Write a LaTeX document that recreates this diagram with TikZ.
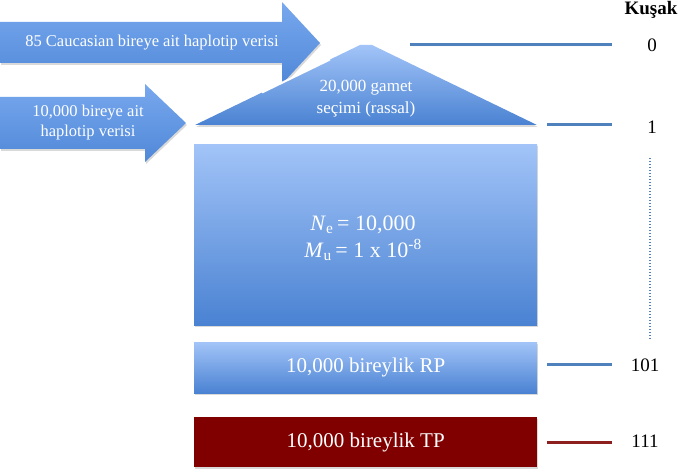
\documentclass[tikz,border=0pt]{standalone}
\usepackage{fontspec}
\setmainfont{Liberation Serif}
\usetikzlibrary{shadows}
\definecolor{bluetop}{HTML}{A2C4F8}
\definecolor{bluebot}{HTML}{4A82D2}
\definecolor{arrtop}{HTML}{78A8EE}
\definecolor{arrbot}{HTML}{5088D8}
\definecolor{tpred}{HTML}{800000}
\definecolor{lineblue}{HTML}{4F81BD}
\definecolor{linered}{HTML}{8E1F1F}
\tikzset{
  bluefill/.style={top color=bluetop, bottom color=bluebot, draw=none},
  arrfill/.style={top color=arrtop, bottom color=arrbot, draw=none},
  shad/.style={drop shadow={shadow xshift=1pt, shadow yshift=-2pt, opacity=0.25, fill=black!60}},
  wtext/.style={text=white, align=center, inner sep=0pt},
  gen/.style={lineblue, line width=3pt},
  num/.style={text=black, inner sep=0pt, font=\fontsize{19}{21}\selectfont}
}
\begin{document}
\begin{tikzpicture}[x=1pt, y=-1pt]
\useasboundingbox (0,0) rectangle (690,473);
% arrows
\path[arrfill, shad] (0,22) -- (282,22) -- (282,2) -- (320,43) -- (282,84) -- (282,63) -- (0,63) -- cycle;
\node[wtext, font=\fontsize{16.5}{19}\selectfont] (a1) at (152,43) {85 Caucasian bireye ait haplotip verisi};
\path[arrfill, shad] (0,97) -- (145,97) -- (145,84) -- (186,123) -- (145,162) -- (145,149) -- (0,149) -- cycle;
\node[wtext, font=\fontsize{16.5}{20}\selectfont] (a2) at (88,123) {10,000 bireye ait\\haplotip verisi};
% triangle
\path[bluefill, shad] (195,125) -- (360,45) -- (372,45) -- (537,125) -- cycle;
\coordinate (e1) at (262,92.5); \coordinate (e2) at (330,59.5);
\draw[white, line width=2pt] (e1) -- (e2);
\node[wtext, font=\fontsize{17}{22}\selectfont] (tri) at (366,99) {20,000 gamet\\seçimi (rassal)};
% big box
\node[bluefill, shad, minimum width=343pt, minimum height=181pt, anchor=north west, inner sep=0pt] (big) at (194,144) {};
\node[wtext, font=\fontsize{22}{27}\selectfont] (params) at (363,238) {\textit{N}\textsubscript{e}\,= 10,000\\\textit{M}\textsubscript{u}\,= 1 x 10\textsuperscript{-8}};
% RP and TP
\node[bluefill, shad, minimum width=343pt, minimum height=51pt, anchor=north west, inner sep=0pt] (rp) at (194,342) {};
\node[wtext, font=\fontsize{21}{24}\selectfont] (rpt) at (rp.center) {10,000 bireylik RP};
\node[fill=tpred, shad, minimum width=343pt, minimum height=50pt, anchor=north west, inner sep=0pt] (tp) at (194,417) {};
\node[wtext, font=\fontsize{21}{24}\selectfont] (tpt) at (tp.center) {10,000 bireylik TP};
% generation labels
\node[inner sep=0pt, font=\fontsize{19}{22}\selectfont\bfseries] (kusak) at (651,10) {Kuşak};
\node[num] (g0) at (652,45) {0};
\node[num] (g1) at (652,127) {1};
\node[num] (g101) at (645,365) {101};
\node[num] (g111) at (645,441) {111};
\coordinate (l0a) at (410,45); \coordinate (l0b) at (612,45);
\coordinate (l1a) at (547,125); \coordinate (l1b) at (612,125);
\coordinate (l101a) at (547,364); \coordinate (l101b) at (612,364);
\coordinate (l111a) at (547,442); \coordinate (l111b) at (612,442);
\draw[gen, shad] (l0a) -- (l0b);
\draw[gen] (l1a) -- (l1b);
\draw[gen] (l101a) -- (l101b);
\draw[linered, line width=3pt] (l111a) -- (l111b);
\coordinate (da) at (650,158); \coordinate (db) at (650,340);
\draw[lineblue, line width=2pt, dash pattern=on 1.2pt off 1.8pt] (da) -- (db);
\end{tikzpicture}
\end{document}
